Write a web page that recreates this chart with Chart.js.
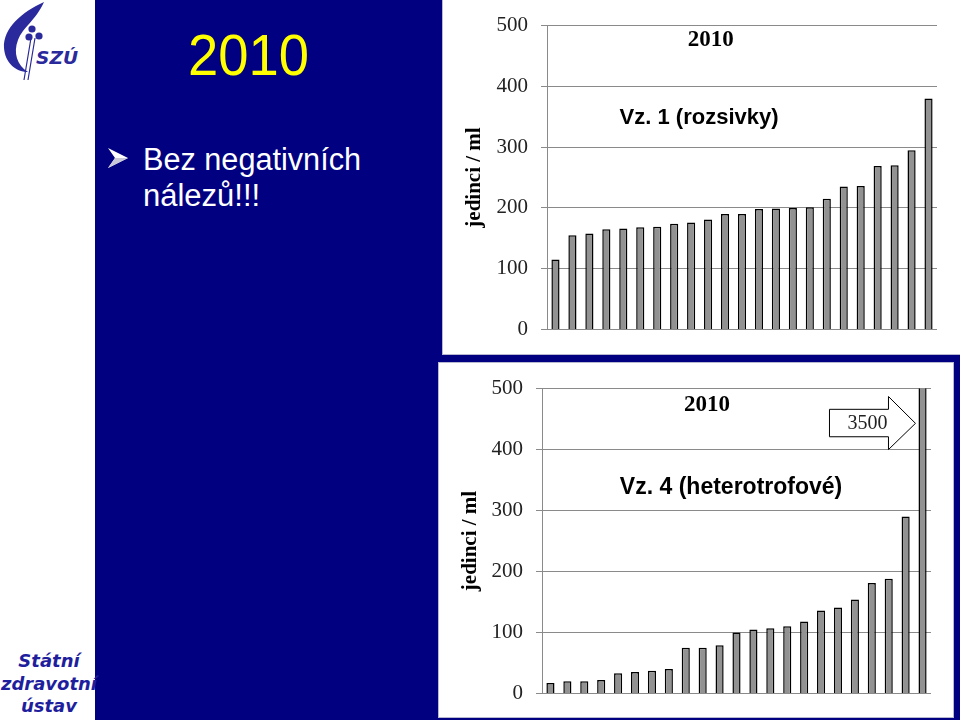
<!DOCTYPE html>
<html>
<head>
<meta charset="utf-8">
<script src="https://cdn.jsdelivr.net/npm/chart.js@4.4.1/dist/chart.umd.min.js"></script>
<style>
  html, body { margin: 0; padding: 0; }
  body { width: 960px; height: 720px; background: #000080; position: relative; overflow: hidden; }
  #strip { position: absolute; left: 0; top: 0; width: 95px; height: 720px; background: #ffffff; }
  .panel { position: absolute; background: #ffffff; box-sizing: border-box; }
  #p1 { left: 442px; top: 0px; width: 518px; height: 355px; border-left: 1px solid #b8b8d0; border-bottom: 1px solid #b8b8d0; }
  #p2 { left: 438px; top: 362px; width: 516px; height: 356px; border: 1px solid #b8b8d0; }
  .panel canvas { position: absolute; left: 0; top: 0; }
  #overlay { position: absolute; left: 0; top: 0; }
</style>
</head>
<body>
<div id="strip"></div>
<svg id="overlay" width="440" height="720" xmlns="http://www.w3.org/2000/svg">
  <!-- logo -->
  <path d="M44,2 C22,12 3,28 4,48 C5,62 15,72 28,72 C17,65 13,53 18,40 C23,27 36,20 44,2 Z" fill="#2a2a9c"/>
  <line x1="31" y1="38" x2="24" y2="80" stroke="#2a2a9c" stroke-width="1.2"/>
  <line x1="35" y1="38" x2="28" y2="80" stroke="#2a2a9c" stroke-width="1.2"/>
  <circle cx="32" cy="29" r="3.6" fill="#2a2a9c"/>
  <circle cx="29" cy="37" r="3.6" fill="#2a2a9c"/>
  <circle cx="39" cy="36" r="3.6" fill="#2a2a9c"/>
  <text x="36" y="64" font-family="DejaVu Sans" font-weight="bold" font-style="italic" font-size="17" fill="#2a2a9c" textLength="42" lengthAdjust="spacingAndGlyphs">SZÚ</text>
  <!-- footer -->
  <g font-family="DejaVu Sans" font-weight="bold" font-style="italic" font-size="18" fill="#1f1f9e" text-anchor="middle">
    <text x="49" y="667">Státní</text>
    <text x="49" y="690" textLength="96" lengthAdjust="spacingAndGlyphs">zdravotní</text>
    <text x="49" y="712">ústav</text>
  </g>
  <!-- slide texts -->
  <text x="188" y="75" font-family="Liberation Sans" font-size="58" fill="#ffff00" textLength="121" lengthAdjust="spacingAndGlyphs">2010</text>
  <polygon points="108,148 128,158 108,168 115,158" fill="#ffffff"/>
  <polygon points="115,158 128,158 108,168" fill="#c8c8d8"/>
  <text x="143" y="170" font-family="Liberation Sans" font-size="31" fill="#ffffff" textLength="218" lengthAdjust="spacingAndGlyphs">Bez negativních</text>
  <text x="143" y="206" font-family="Liberation Sans" font-size="31" fill="#ffffff">nálezů!!!</text>
</svg>
<div class="panel" id="p1"><canvas id="c1" width="518" height="355"></canvas></div>
<div class="panel" id="p2"><canvas id="c2" width="516" height="356"></canvas></div>
<script>
// ---- data ----
const categories = ['1','2','3','4','5','6','7','8','9','10','11','12','13','14','15','16','17','18','19','20','21','22','23'];
const rozsivky = [115,155,158,165,166,168,169,174,176,181,190,190,198,199,200,201,215,235,236,269,270,295,380];
const heterotrofove = [17,20,20,22,33,35,37,40,75,75,79,100,105,107,110,118,136,141,154,181,188,290,3500];
const yTicks = [0,100,200,300,400,500];
const chartYear = '2010';
const title1 = 'Vz. 1 (rozsivky)';
const title4 = 'Vz. 4 (heterotrofové)';
const yTitle = 'jedinci / ml';
const outlierLabel = '3500';

const gridColor = '#8a8a8a';

function makeOptions(axisWidth, padRight, padTop, padBottom, texts) {
  return {
    responsive: false,
    animation: false,
    events: [],
    layout: { padding: { left: 0, right: padRight, top: padTop, bottom: padBottom } },
    plugins: { legend: { display: false }, tooltip: { enabled: false }, title: { display: false }, panelTexts: texts },
    scales: {
      x: { display: false, offset: true },
      y: {
        min: 0, max: 500,
        afterFit: (s) => { s.width = axisWidth; },
        afterBuildTicks: (s) => { s.ticks = yTicks.map(v => ({ value: v })); },
        grid: { color: gridColor, lineWidth: 1, tickLength: 6, drawTicks: true },
        border: { display: true, color: gridColor, width: 1 },
        ticks: { padding: 13, color: '#222', font: { family: 'Liberation Serif', size: 21 } },
        title: { display: true, text: yTitle, color: '#000', padding: { top: 19, bottom: 0 },
                 font: { family: 'Liberation Serif', size: 21, weight: 'bold' } }
      }
    }
  };
}

const panelTexts = {
  id: 'panelTexts',
  afterDraw(chart, args, opts) {
    const ctx = chart.ctx, a = chart.chartArea;
    ctx.save();
    ctx.textAlign = 'center';
    ctx.textBaseline = 'middle';
    ctx.fillStyle = '#000';
    ctx.font = 'bold 23px "Liberation Serif"';
    ctx.fillText(chartYear, a.left + opts.yearX * (a.right - a.left), a.top + opts.yearY);
    ctx.font = 'bold ' + opts.subSize + 'px "Liberation Sans"';
    ctx.fillText(opts.sub, a.left + opts.subX * (a.right - a.left), a.top + opts.subY);
    if (opts.arrow) {
      const ys = chart.scales.y;
      const meta = chart.getDatasetMeta(0);
      const last = meta.data[meta.data.length - 1];
      const tip = last.x - last.width / 2 - 3;
      const headStart = tip - 27;
      const left = tip - 86;
      const yc = ys.getPixelForValue(443);
      const bTop = ys.getPixelForValue(466), bBot = ys.getPixelForValue(421);
      const hTop = ys.getPixelForValue(487), hBot = ys.getPixelForValue(400);
      ctx.beginPath();
      ctx.moveTo(left, bTop);
      ctx.lineTo(headStart, bTop);
      ctx.lineTo(headStart, hTop);
      ctx.lineTo(tip, yc);
      ctx.lineTo(headStart, hBot);
      ctx.lineTo(headStart, bBot);
      ctx.lineTo(left, bBot);
      ctx.closePath();
      ctx.fillStyle = '#fff';
      ctx.fill();
      ctx.strokeStyle = '#000';
      ctx.lineWidth = 1;
      ctx.stroke();
      ctx.fillStyle = '#222';
      ctx.font = '20px "Liberation Serif"';
      ctx.fillText(outlierLabel, left + 38, yc);
    }
    ctx.restore();
  }
};

function dataset(values) {
  return {
    data: values,
    backgroundColor: '#929292',
    borderColor: '#000',
    borderWidth: 1.5,
    categoryPercentage: 1.0,
    barPercentage: 0.48
  };
}

new Chart(document.getElementById('c1'), {
  type: 'bar',
  data: { labels: categories, datasets: [dataset(rozsivky)] },
  options: makeOptions(104, 24, 24, 23, { yearX: 0.42, yearY: 14, subX: 0.39, subY: 92, sub: title1, subSize: 22 }),
  plugins: [panelTexts]
});

new Chart(document.getElementById('c2'), {
  type: 'bar',
  data: { labels: categories, datasets: [dataset(heterotrofove)] },
  options: makeOptions(103, 24, 24, 25, { yearX: 0.424, yearY: 16, subX: 0.486, subY: 99, sub: title4, subSize: 23, arrow: true }),
  plugins: [panelTexts]
});
</script>
</body>
</html>
